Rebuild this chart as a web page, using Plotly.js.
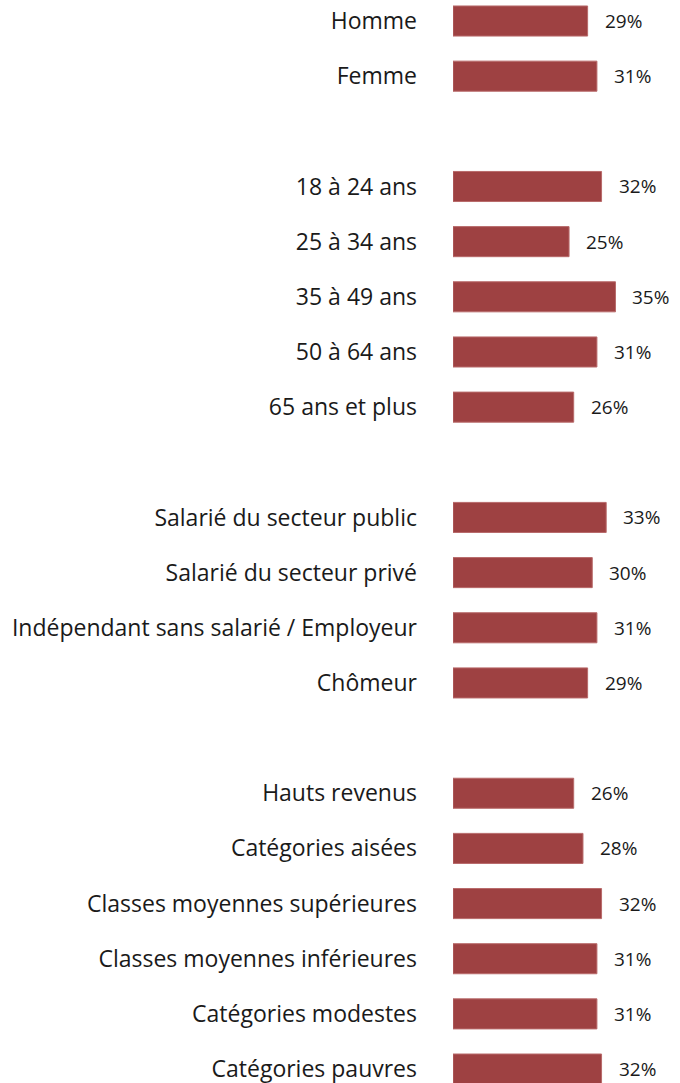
<!DOCTYPE html>
<html>
<head>
<meta charset="utf-8">
<script src="https://cdn.plot.ly/plotly-3.0.1.min.js"></script>
<style>html,body{margin:0;padding:0;background:#fff;}#chart{width:680px;height:1083px;}</style>
</head>
<body>
<div id="chart"></div>
<script>
// Data
const sexeLabels = ["Homme", "Femme"];
const sexeValues = [29, 31];
const ageLabels = ["18 à 24 ans", "25 à 34 ans", "35 à 49 ans", "50 à 64 ans", "65 ans et plus"];
const ageValues = [32, 25, 35, 31, 26];
const statutLabels = ["Salarié du secteur public", "Salarié du secteur privé", "Indépendant sans salarié / Employeur", "Chômeur"];
const statutValues = [33, 30, 31, 29];
const revenuLabels = ["Hauts revenus", "Catégories aisées", "Classes moyennes supérieures", "Classes moyennes inférieures", "Catégories modestes", "Catégories pauvres"];
const revenuValues = [26, 28, 32, 31, 31, 32];

const groups = [
  [sexeLabels, sexeValues],
  [ageLabels, ageValues],
  [statutLabels, statutValues],
  [revenuLabels, revenuValues]
];

// Build slot positions (one empty slot between groups)
const labels = [], values = [], pos = [];
let slot = 0;
groups.forEach((g, gi) => {
  if (gi > 0) slot += 1;
  g[0].forEach((lab, i) => {
    labels.push(lab); values.push(g[1][i]); pos.push(slot); slot += 1;
  });
});

const FONT = "'Open Sans', Lato, sans-serif";
const trace = {
  type: "bar",
  orientation: "h",
  x: values,
  y: pos,
  width: 0.545,
  marker: {color: "#9e4142", line: {color: "#b86a6a", width: 1}},
  hoverinfo: "none"
};

const annotations = values.map((v, i) => ({
  x: v, y: pos[i], xref: "x", yref: "y",
  text: v + "%", showarrow: false, xanchor: "left", yanchor: "middle",
  xshift: 15, font: {family: FONT, size: 19, color: "#1a1a1a"}
}));

const layout = {
  width: 680, height: 1083,
  margin: {l: 453, r: 0, t: 0, b: 0},
  paper_bgcolor: "#fff", plot_bgcolor: "#fff",
  showlegend: false,
  xaxis: {range: [0, 48.9], visible: false, fixedrange: true},
  yaxis: {
    range: [19.253, -0.381],
    tickvals: pos, ticktext: labels,
    showgrid: false, zeroline: false, showline: false,
    ticks: "", ticklabelstandoff: 35, ticklabeloverflow: "allow",
    tickfont: {family: FONT, size: 23, color: "#1a1a1a"}
  },
  annotations: annotations
};

Plotly.newPlot("chart", [trace], layout, {displayModeBar: false, staticPlot: true});
</script>
</body>
</html>
